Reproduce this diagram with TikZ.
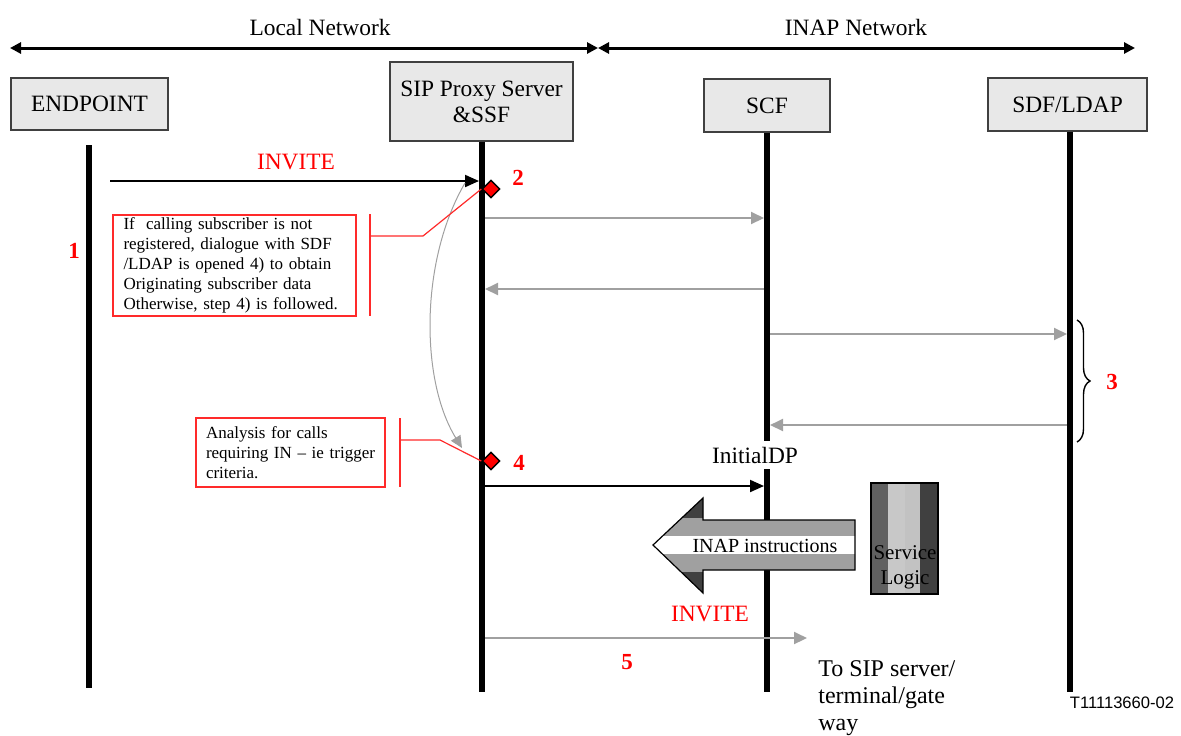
\documentclass[tikz,border=0pt]{standalone}
\usepackage{fontspec}
\setmainfont{Liberation Serif}
\newfontfamily\refsans{Liberation Sans}
\usepackage{tikz}
\usetikzlibrary{arrows.meta,shapes.geometric,decorations.pathreplacing}
\definecolor{boxfill}{HTML}{E8E8E8}
\definecolor{msggray}{HTML}{A0A0A0}
\definecolor{notered}{HTML}{FF2A2A}
\definecolor{banddark}{HTML}{404040}
\definecolor{bandmid}{HTML}{A0A0A0}
\definecolor{slone}{HTML}{606060}
\definecolor{sltwo}{HTML}{C8C8C8}
\definecolor{slthree}{HTML}{C2C2C2}
\tikzset{
  actor/.style={draw=black!75, fill=boxfill, line width=0.6pt, inner sep=0pt, align=center, font=\fontsize{11.7}{13}\selectfont},
  life/.style={draw=black, line width=3pt},
  zone/.style={draw=black, line width=1.5pt, {Triangle[length=5.5pt,width=5.5pt]}-{Triangle[length=5.5pt,width=5.5pt]}},
  msg/.style={draw=black, line width=1pt, shorten >=1.5pt, -{Triangle[length=7pt,width=6pt]}},
  msgg/.style={draw=msggray, line width=1pt, shorten >=1.5pt, shorten <=1.5pt, -{Triangle[length=6.5pt,width=6pt]}},
  recall/.style={draw=msggray, line width=0.5pt, -{Triangle[length=6pt,width=5.5pt]}},
  note/.style={draw=notered, line width=0.6pt, fill=white, align=left, inner xsep=5pt, inner ysep=1pt, font=\fontsize{8.5}{10}\selectfont},
  tie/.style={draw=notered, line width=0.6pt},
  stepmark/.style={diamond, draw=black, fill=red, line width=0.7pt, inner sep=0pt, minimum width=9pt, minimum height=9pt},
  lab/.style={font=\fontsize{11.7}{14}\selectfont},
  redlab/.style={text=red, font=\fontsize{11.7}{14}\selectfont},
  num/.style={text=red, font=\fontsize{11.5}{13}\selectfont\bfseries},
}
\begin{document}
\begin{tikzpicture}[x=0.5pt,y=-0.5pt]
  \useasboundingbox (0,0) rectangle (1181,735);
  \coordinate (z-l) at (10,48); \coordinate (z-m) at (598,48); \coordinate (z-r) at (1135,48);
  \draw[zone] (z-l) -- (z-m);
  \draw[zone] (z-m) -- (z-r);
  \node[lab] (local) at (320,27) {Local Network};
  \node[lab] (inapnet) at (856,27) {INAP Network};

  \node[actor, minimum width=78.5pt, minimum height=26pt] (ep) at (89.5,104) {ENDPOINT};
  \node[actor, minimum width=91.5pt, minimum height=39.5pt] (proxy) at (481.5,101.5) {SIP Proxy Server\\\&SSF};
  \node[actor, minimum width=63pt, minimum height=26.5pt] (scf) at (767,105.5) {SCF};
  \node[actor, minimum width=79.5pt, minimum height=26.5pt] (sdf) at (1067.5,104.5) {SDF/LDAP};

  \coordinate (ep-top) at (89,145); \coordinate (ep-end) at (89,688);
  \coordinate (proxy-end) at (482,692);
  \coordinate (scf-end) at (767,692);
  \coordinate (sdf-end) at (1070,692);
  \draw[life] (ep-top) -- (ep-end);
  \draw[life] (proxy.south -| proxy-end) -- (proxy-end);
  \draw[life] (scf.south -| scf-end) -- (scf-end);
  \draw[life] (sdf.south -| sdf-end) -- (sdf-end);

  \coordinate (inv-a) at (110,181); \coordinate (inv-b) at (482,181);
  \coordinate (q1-a) at (482,218); \coordinate (q1-b) at (767,218);
  \coordinate (r1-a) at (767,289); \coordinate (r1-b) at (482,289);
  \coordinate (q2-a) at (767,334); \coordinate (q2-b) at (1070,334);
  \coordinate (r2-a) at (1070,425); \coordinate (r2-b) at (767,425);
  \coordinate (idp-a) at (482,486); \coordinate (idp-b) at (767,486);
  \coordinate (inv2-a) at (482,638); \coordinate (inv2-b) at (807,638);

  \draw[msg] (inv-a) -- (inv-b);
  \node[redlab] (invite) at (296,162) {INVITE};
  \draw[msgg] (q1-a) -- (q1-b);
  \draw[msgg] (r1-a) -- (r1-b);
  \draw[msgg] (q2-a) -- (q2-b);
  \draw[msgg] (r2-a) -- (r2-b);
  \draw[msg] (idp-a) -- (idp-b);
  \node[fill=white, inner xsep=1pt, inner ysep=3pt, font=\fontsize{11.7}{14}\selectfont] (idp) at (755,455) {InitialDP};
  \draw[msgg, shorten >=0pt] (inv2-a) -- (inv2-b);
  \node[redlab] (invite2) at (710,614) {INVITE};

  \node[stepmark] (d2) at (491,189) {};
  \node[stepmark] (d4) at (491,461) {};
  \node[num] (n1) at (74,251) {1};
  \node[num] (n2) at (518,178) {2};
  \node[num] (n3) at (1112,382) {3};
  \node[num] (n4) at (519,463) {4};
  \node[num] (n5) at (627,662) {5};

  \coordinate (loop-a) at (465,183); \coordinate (loop-b) at (462,448);
  \draw[recall] (loop-a) .. controls (420,260) and (420,380) .. (loop-b);

  \node[note, minimum width=121.5pt, minimum height=50.5pt, text width=111pt] (note2) at (234.5,265.5) {If\ \ calling subscriber is not\\registered, dialogue with SDF\\/LDAP is opened 4) to obtain\\Originating subscriber data\\Otherwise, step 4) is followed.};
  \coordinate (t2-top) at (370,214); \coordinate (t2-bot) at (370,316);
  \coordinate (t2-mid) at (370,236); \coordinate (t2-bend) at (423,236);
  \draw[tie] (t2-top) -- (t2-bot);
  \draw[tie] (t2-mid) -- (t2-bend) -- (d2.west);

  \node[note, minimum width=94.5pt, minimum height=34.5pt, text width=84.5pt] (note4) at (290.5,452.5) {Analysis for calls\\requiring IN – ie trigger\\criteria.};
  \coordinate (t4-top) at (400,418); \coordinate (t4-bot) at (400,487);
  \coordinate (t4-mid) at (400,440); \coordinate (t4-bend) at (440,440);
  \draw[tie] (t4-top) -- (t4-bot);
  \draw[tie] (t4-mid) -- (t4-bend) -- (d4.west);

  \coordinate (br-top) at (1077,320); \coordinate (br-bot) at (1077,442);
  \draw[line width=0.7pt, decorate, decoration={brace, amplitude=6.5pt}] (br-top) -- (br-bot);

  \begin{scope}
    \clip (653,545) -- (703,498) -- (703,520) -- (855,520) -- (855,570) -- (703,570) -- (703,593) -- cycle;
    \fill[banddark] (640,490) rectangle (870,518);
    \fill[bandmid] (640,518) rectangle (870,536);
    \fill[white] (640,536) rectangle (870,554);
    \fill[bandmid] (640,554) rectangle (870,572);
    \fill[banddark] (640,572) rectangle (870,600);
  \end{scope}
  \draw[line width=0.6pt, line join=miter] (653,545) -- (703,498) -- (703,520) -- (855,520) -- (855,570) -- (703,570) -- (703,593) -- cycle;
  \node[font=\fontsize{10}{12}\selectfont] (instr) at (765,546) {INAP instructions};

  \fill[slone] (871,483) rectangle (888,594);
  \fill[sltwo] (888,483) rectangle (905,594);
  \fill[slthree] (905,483) rectangle (920,594);
  \fill[banddark] (920,483) rectangle (938,594);
  \node[draw=black, line width=0.6pt, minimum width=33.5pt, minimum height=55.5pt, inner sep=0pt] (sl) at (904.5,538.5) {};
  \node[align=center, font=\fontsize{10.5}{12.5}\selectfont] (sltext) at (905,567) {Service\\Logic};

  \node[anchor=north west, align=left, inner sep=0pt, font=\fontsize{12}{13.5}\selectfont] (dest) at (818,660) {To SIP server/\\terminal/gate\\way};
  \node[font=\refsans\fontsize{8.3}{10}\selectfont] (fig) at (1122,703) {T11113660-02};
\end{tikzpicture}
\end{document}
